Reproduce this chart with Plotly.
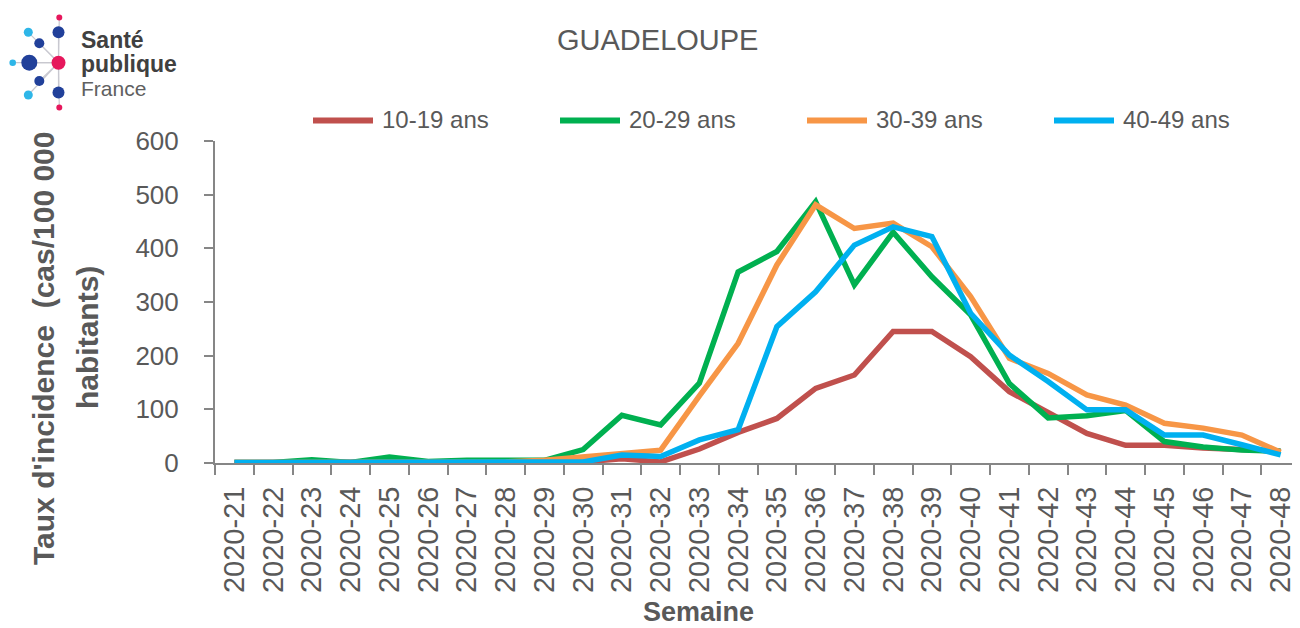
import plotly.graph_objects as go

weeks = ["2020-%d" % w for w in range(21, 49)]
series_names = ["10-19 ans", "20-29 ans", "30-39 ans", "40-49 ans"]
vals_10_19 = [1, 1, 1, 1, 1, 1, 1, 1, 1, 2, 8, 2, 26, 57, 83, 139, 164, 245, 245, 198, 133, 93, 55, 33, 33, 28, 24, 22]
vals_20_29 = [1, 1, 6, 1, 11, 3, 5, 5, 5, 25, 89, 71, 149, 356, 394, 487, 332, 430, 347, 276, 148, 84, 88, 98, 40, 30, 24, 22]
vals_30_39 = [1, 1, 1, 1, 1, 1, 1, 2, 5, 12, 18, 24, 125, 223, 369, 481, 437, 447, 403, 310, 195, 167, 127, 108, 74, 65, 52, 20]
vals_40_49 = [1, 1, 1, 1, 1, 2, 1, 1, 1, 2, 15, 12, 43, 62, 254, 319, 406, 440, 422, 279, 201, 152, 99, 99, 52, 52, 34, 15]
colors = ["#C0504D", "#00B050", "#F79646", "#00B0F0"]
y_ticks = [0, 100, 200, 300, 400, 500, 600]

# page body has a default 8px margin; the figure is sized/placed to land on the reference pixels
OFF = 8
W, H = 1300 - OFF, 628 - OFF
L, R, T, B = 215 - OFF, 0, 141 - OFF, 165
PW, PH = W - L - R, H - T - B


def px(x):
    return (x - OFF - L) / PW


def py(y):
    return (H - B - (y - OFF)) / PH


GRAY = "#595959"
AXC = "#868686"
FONT = "Liberation Sans"

fig = go.Figure()
for name, vals, col in zip(series_names, [vals_10_19, vals_20_29, vals_30_39, vals_40_49], colors):
    fig.add_trace(go.Scatter(x=weeks, y=vals, mode="lines", name=name,
                             line=dict(color=col, width=5.5), showlegend=False))

shapes = []
annotations = []

# manual legend
leg_x = [313, 560, 807, 1054]
for x0, name, col in zip(leg_x, series_names, colors):
    shapes.append(dict(type="line", xref="paper", yref="paper",
                       x0=px(x0), x1=px(x0 + 60), y0=py(120.5), y1=py(120.5),
                       line=dict(color=col, width=6)))
    annotations.append(dict(text=name, xref="paper", yref="paper", x=px(x0 + 67), y=py(120),
                            xanchor="left", yanchor="middle", showarrow=False,
                            font=dict(family=FONT, size=24, color=GRAY)))

# title
annotations.append(dict(text="GUADELOUPE", xref="paper", yref="paper", x=px(657), y=py(40),
                        xanchor="center", yanchor="middle", showarrow=False,
                        font=dict(family=FONT, size=29, color=GRAY)))
# y title
annotations.append(dict(text="Taux d'incidence  (cas/100 000", xref="paper", yref="paper",
                        x=px(43), y=py(349), xanchor="center", yanchor="middle", textangle=-90,
                        showarrow=False, font=dict(family=FONT, size=30, color=GRAY, weight="bold")))
annotations.append(dict(text="habitants)", xref="paper", yref="paper",
                        x=px(87), y=py(338), xanchor="center", yanchor="middle", textangle=-90,
                        showarrow=False, font=dict(family=FONT, size=30, color=GRAY, weight="bold")))
# x title
annotations.append(dict(text="Semaine", xref="paper", yref="paper", x=px(698), y=py(612),
                        xanchor="center", yanchor="middle", showarrow=False,
                        font=dict(family=FONT, size=27, color=GRAY, weight="bold")))

# logo
DB, LB, PK = "#21409A", "#2EB6E8", "#E6175C"
cx, cy = 58.5, 62.7
dots = [(59.3, 17.5, 3, PK), (28.3, 32.3, 4.5, LB), (58.5, 32.3, 6, DB), (39.3, 43.3, 5, DB),
        (12.7, 62.7, 3.3, LB), (29.3, 62.7, 8, DB), (58.5, 62.7, 7, PK), (39.3, 81, 5, DB),
        (28.3, 95, 4.5, LB), (58.5, 92.5, 6, DB), (59.3, 107.5, 3, PK)]
for (x, y, r, c) in dots:
    if (x, y) == (cx, cy):
        continue
    shapes.append(dict(type="line", xref="paper", yref="paper", x0=px(cx), y0=py(cy),
                       x1=px(x), y1=py(y), line=dict(color="#C8C8D0", width=1.2), layer="below"))
for (x, y, r, c) in dots:
    shapes.append(dict(type="circle", xref="paper", yref="paper", xsizemode="pixel", ysizemode="pixel",
                       xanchor=px(x), yanchor=py(y), x0=-r, x1=r, y0=-r, y1=r,
                       fillcolor=c, line=dict(width=0)))
annotations.append(dict(text="Santé", xref="paper", yref="paper", x=px(79), y=py(40),
                        xanchor="left", yanchor="middle", showarrow=False,
                        font=dict(family=FONT, size=23, color="#404040", weight="bold")))
annotations.append(dict(text="publique", xref="paper", yref="paper", x=px(79), y=py(64),
                        xanchor="left", yanchor="middle", showarrow=False,
                        font=dict(family=FONT, size=23, color="#404040", weight="bold")))
annotations.append(dict(text="France", xref="paper", yref="paper", x=px(79), y=py(89),
                        xanchor="left", yanchor="middle", showarrow=False,
                        font=dict(family=FONT, size=21, color="#606060")))

fig.update_layout(
    width=W, height=H,
    margin=dict(l=L, r=R, t=T, b=B, autoexpand=False),
    paper_bgcolor="white", plot_bgcolor="white",
    font=dict(family=FONT, color=GRAY),
    shapes=shapes, annotations=annotations,
    xaxis=dict(type="category", categoryorder="array", categoryarray=weeks,
               range=[-0.5, len(weeks) - 0.5],
               tickson="boundaries", ticks="outside", ticklen=10, tickwidth=2, tickcolor=AXC,
               showline=True, linecolor=AXC, linewidth=2, showgrid=False, zeroline=False,
               tickangle=-90, tickfont=dict(family=FONT, size=29, color=GRAY),
               ticklabelstandoff=10),
    yaxis=dict(range=[0, 600], tickvals=y_ticks, ticks="outside", ticklen=9, tickwidth=2,
               tickcolor=AXC, showline=True, linecolor=AXC, linewidth=2, showgrid=False,
               zeroline=False, tickfont=dict(family=FONT, size=26, color=GRAY),
               ticklabelstandoff=20),
)

fig.write_html("out.html")
